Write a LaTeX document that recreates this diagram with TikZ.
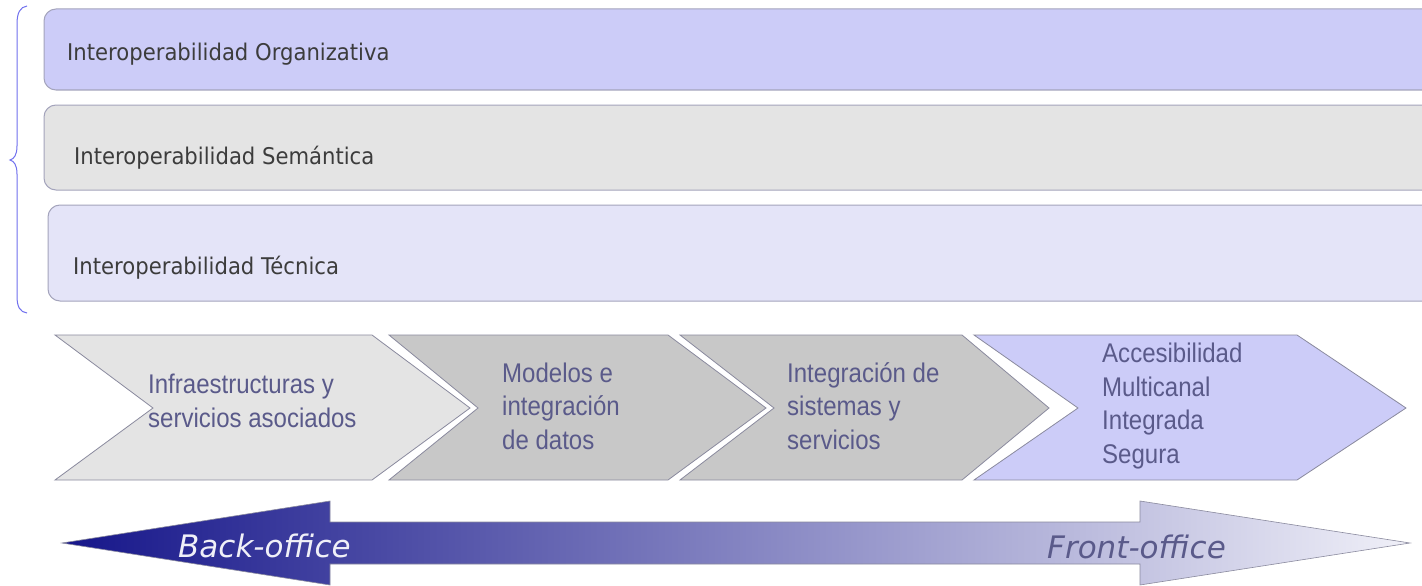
\documentclass[tikz,border=0pt]{standalone}
\usepackage{fontspec}
\newfontfamily\barfont[FakeStretch=0.92]{DejaVu Sans}
\newfontfamily\chevfont[FakeStretch=0.89]{Liberation Sans}
\newfontfamily\arrfont{DejaVu Sans}
\definecolor{lilac}{HTML}{CCCCF8}
\definecolor{lilacpale}{HTML}{E4E4F8}
\definecolor{greypale}{HTML}{E4E4E4}
\definecolor{greymid}{HTML}{C8C8C8}
\definecolor{barline}{HTML}{A4A4BC}
\definecolor{chevline}{HTML}{8A8A9E}
\definecolor{chevtext}{HTML}{5A5A8A}
\definecolor{bartext}{HTML}{3C3C3C}
\definecolor{bracecol}{HTML}{7070EE}
\definecolor{navy}{HTML}{16168A}
\definecolor{midblue}{HTML}{7A7AB8}
\definecolor{palest}{HTML}{F0F0F8}
\begin{document}
\begin{tikzpicture}[x=1pt,y=-1pt,
  layerbar/.style={draw=barline,line width=1pt,rounded corners=12pt},
  bartxt/.style={anchor=base west,inner sep=0pt,text=bartext,font=\barfont\fontsize{23}{28}\selectfont},
  chev/.style={draw=chevline,line width=0.8pt},
  chevtxt/.style={anchor=west,inner sep=0pt,align=left,text=chevtext,font=\chevfont\fontsize{27}{33.5}\selectfont},
  arrtxt/.style={anchor=base west,inner sep=0pt,font=\arrfont\itshape\fontsize{31}{36}\selectfont}]
\useasboundingbox (0,0) rectangle (1422,586);
\fill[white] (0,0) rectangle (1422,586);
\clip (0,0) rectangle (1422,586);
% brace
\draw[bracecol,line width=1pt] (27,6) .. controls (20,7) and (17,13) .. (17,24) -- (17,146)
  .. controls (17,155) and (14,159) .. (10,160) .. controls (14,161) and (17,165) .. (17,174)
  -- (17,296) .. controls (17,307) and (20,312) .. (27,313);
% layers
\path[layerbar,fill=lilac] (44,9) rectangle (1460,90);
\path[layerbar,fill=greypale] (44,105) rectangle (1460,190);
\path[layerbar,fill=lilacpale] (48,205) rectangle (1460,301);
\node[bartxt] (l1) at (67,61) {Interoperabilidad Organizativa};
\node[bartxt] (l2) at (74,164) {Interoperabilidad Semántica};
\node[bartxt] (l3) at (73,274) {Interoperabilidad Técnica};
% chevrons
\path[chev,fill=greypale] (55,335) -- (372,335) -- (470,408) -- (372,480) -- (55,480) -- (153,408) -- cycle;
\path[chev,fill=greymid] (389,335) -- (668,335) -- (766,408) -- (668,480) -- (389,480) -- (478,408) -- cycle;
\path[chev,fill=greymid] (680,335) -- (962,335) -- (1049,408) -- (962,480) -- (680,480) -- (774,408) -- cycle;
\path[chev,fill=lilac] (974,335) -- (1297,335) -- (1406,408) -- (1297,480) -- (974,480) -- (1078,408) -- cycle;
\node[chevtxt] (c1) at (148,401) {Infraestructuras y\\servicios asociados};
\node[chevtxt] (c2) at (502,406) {Modelos e\\integración\\de datos};
\node[chevtxt] (c3) at (787,406) {Integración de\\sistemas y\\servicios};
\node[chevtxt] (c4) at (1102,406) {Accesibilidad\\Multicanal\\Integrada\\Segura};
% double arrow
\path[draw=chevline,line width=0.6pt,left color=navy,middle color=midblue,right color=palest]
  (62,543) -- (330,501) -- (330,522) -- (1140,522) -- (1140,501) -- (1410,543)
  -- (1140,585) -- (1140,564) -- (330,564) -- (330,585) -- cycle;
\node[arrtxt,text=palest] (bo) at (178,557) {Back-office};
\node[arrtxt,text=chevtext] (fo) at (1047,558) {Front-office};
\end{tikzpicture}
\end{document}
